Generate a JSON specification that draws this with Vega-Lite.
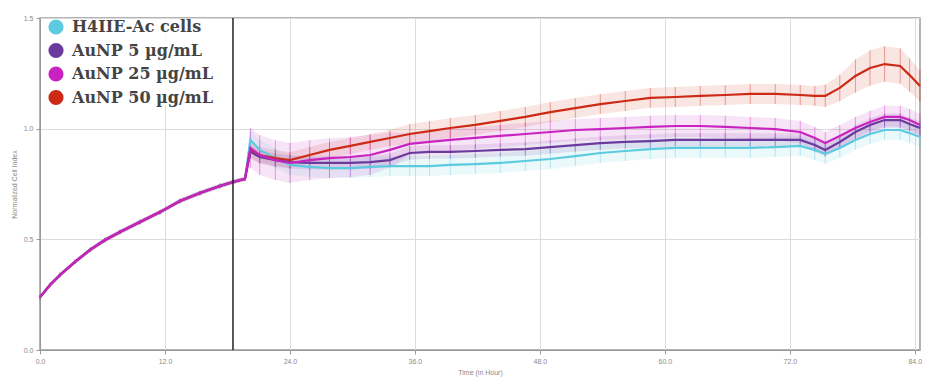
{
  "$schema": "https://vega.github.io/schema/vega-lite/v6.json",
  "autosize": {"type": "none"},
  "width": 880,
  "height": 332,
  "padding": {"left": 40, "top": 18, "right": 10, "bottom": 36},
  "background": "white",
  "config": {
    "view": {"stroke": "#9a9a9a", "strokeWidth": 1.5},
    "axis": {"gridColor": "#dcdcdc", "gridWidth": 1, "domainColor": "#9a9a9a", "tickColor": "#9a9a9a", "labelFont": "Liberation Sans", "labelFontSize": 7, "labelColor": "#8a8a8a", "titleFont": "Liberation Sans", "titleFontSize": 7, "titleFontWeight": "normal", "titleColor": "#8a8a8a", "labelFlush": false}
  },
  "datasets": {
    "series": [
      {"s":"H4IIE-Ac cells","t":0,"v":0.239,"e":0.01},{"s":"H4IIE-Ac cells","t":0.96,"v":0.294,"e":0.01},{"s":"H4IIE-Ac cells","t":1.92,"v":0.339,"e":0.01},{"s":"H4IIE-Ac cells","t":3.36,"v":0.398,"e":0.01},{"s":"H4IIE-Ac cells","t":4.8,"v":0.452,"e":0.01},{"s":"H4IIE-Ac cells","t":6.24,"v":0.497,"e":0.01},{"s":"H4IIE-Ac cells","t":7.68,"v":0.533,"e":0.01},{"s":"H4IIE-Ac cells","t":9.6,"v":0.578,"e":0.01},{"s":"H4IIE-Ac cells","t":11.52,"v":0.623,"e":0.01},{"s":"H4IIE-Ac cells","t":13.44,"v":0.673,"e":0.01},{"s":"H4IIE-Ac cells","t":15.36,"v":0.709,"e":0.01},{"s":"H4IIE-Ac cells","t":17.28,"v":0.741,"e":0.01},{"s":"H4IIE-Ac cells","t":18.53,"v":0.759,"e":0.01},{"s":"H4IIE-Ac cells","t":19.68,"v":0.773,"e":0.01},
      {"s":"H4IIE-Ac cells","t":20.2,"v":0.949,"e":0.045},{"s":"H4IIE-Ac cells","t":21.1,"v":0.904,"e":0.045},{"s":"H4IIE-Ac cells","t":22.6,"v":0.867,"e":0.045},{"s":"H4IIE-Ac cells","t":24.0,"v":0.836,"e":0.045},{"s":"H4IIE-Ac cells","t":25.9,"v":0.827,"e":0.045},{"s":"H4IIE-Ac cells","t":27.8,"v":0.822,"e":0.045},{"s":"H4IIE-Ac cells","t":29.8,"v":0.822,"e":0.045},{"s":"H4IIE-Ac cells","t":31.7,"v":0.827,"e":0.045},{"s":"H4IIE-Ac cells","t":33.6,"v":0.831,"e":0.045},{"s":"H4IIE-Ac cells","t":35.5,"v":0.831,"e":0.045},{"s":"H4IIE-Ac cells","t":37.4,"v":0.831,"e":0.045},{"s":"H4IIE-Ac cells","t":39.4,"v":0.836,"e":0.045},{"s":"H4IIE-Ac cells","t":41.8,"v":0.840,"e":0.045},{"s":"H4IIE-Ac cells","t":44.2,"v":0.845,"e":0.045},{"s":"H4IIE-Ac cells","t":46.6,"v":0.854,"e":0.045},{"s":"H4IIE-Ac cells","t":49.0,"v":0.863,"e":0.045},{"s":"H4IIE-Ac cells","t":51.4,"v":0.876,"e":0.045},{"s":"H4IIE-Ac cells","t":53.8,"v":0.890,"e":0.045},{"s":"H4IIE-Ac cells","t":56.2,"v":0.899,"e":0.045},{"s":"H4IIE-Ac cells","t":58.6,"v":0.908,"e":0.045},{"s":"H4IIE-Ac cells","t":61.0,"v":0.913,"e":0.045},{"s":"H4IIE-Ac cells","t":63.4,"v":0.913,"e":0.045},{"s":"H4IIE-Ac cells","t":65.8,"v":0.913,"e":0.045},{"s":"H4IIE-Ac cells","t":68.2,"v":0.913,"e":0.045},{"s":"H4IIE-Ac cells","t":70.6,"v":0.917,"e":0.045},{"s":"H4IIE-Ac cells","t":73.0,"v":0.922,"e":0.045},{"s":"H4IIE-Ac cells","t":74.4,"v":0.904,"e":0.045},{"s":"H4IIE-Ac cells","t":75.4,"v":0.886,"e":0.045},{"s":"H4IIE-Ac cells","t":76.8,"v":0.913,"e":0.045},{"s":"H4IIE-Ac cells","t":78.3,"v":0.949,"e":0.045},{"s":"H4IIE-Ac cells","t":79.7,"v":0.976,"e":0.045},{"s":"H4IIE-Ac cells","t":81.1,"v":0.994,"e":0.045},{"s":"H4IIE-Ac cells","t":82.6,"v":0.994,"e":0.045},{"s":"H4IIE-Ac cells","t":83.5,"v":0.980,"e":0.045},{"s":"H4IIE-Ac cells","t":84.5,"v":0.962,"e":0.045},

      {"s":"AuNP 50 µg/mL","t":0,"v":0.239,"e":0.01},{"s":"AuNP 50 µg/mL","t":0.96,"v":0.294,"e":0.01},{"s":"AuNP 50 µg/mL","t":1.92,"v":0.339,"e":0.01},{"s":"AuNP 50 µg/mL","t":3.36,"v":0.398,"e":0.01},{"s":"AuNP 50 µg/mL","t":4.8,"v":0.452,"e":0.01},{"s":"AuNP 50 µg/mL","t":6.24,"v":0.497,"e":0.01},{"s":"AuNP 50 µg/mL","t":7.68,"v":0.533,"e":0.01},{"s":"AuNP 50 µg/mL","t":9.6,"v":0.578,"e":0.01},{"s":"AuNP 50 µg/mL","t":11.52,"v":0.623,"e":0.01},{"s":"AuNP 50 µg/mL","t":13.44,"v":0.673,"e":0.01},{"s":"AuNP 50 µg/mL","t":15.36,"v":0.709,"e":0.01},{"s":"AuNP 50 µg/mL","t":17.28,"v":0.741,"e":0.01},{"s":"AuNP 50 µg/mL","t":18.53,"v":0.759,"e":0.01},{"s":"AuNP 50 µg/mL","t":19.68,"v":0.773,"e":0.01},
      {"s":"AuNP 50 µg/mL","t":20.2,"v":0.904,"e":0.036},{"s":"AuNP 50 µg/mL","t":21.1,"v":0.881,"e":0.036},{"s":"AuNP 50 µg/mL","t":22.6,"v":0.867,"e":0.036},{"s":"AuNP 50 µg/mL","t":24.0,"v":0.858,"e":0.036},{"s":"AuNP 50 µg/mL","t":25.9,"v":0.881,"e":0.036},{"s":"AuNP 50 µg/mL","t":27.8,"v":0.904,"e":0.036},{"s":"AuNP 50 µg/mL","t":29.8,"v":0.922,"e":0.036},{"s":"AuNP 50 µg/mL","t":31.7,"v":0.940,"e":0.036},{"s":"AuNP 50 µg/mL","t":33.6,"v":0.958,"e":0.036},{"s":"AuNP 50 µg/mL","t":35.5,"v":0.976,"e":0.045},{"s":"AuNP 50 µg/mL","t":37.4,"v":0.989,"e":0.045},{"s":"AuNP 50 µg/mL","t":39.4,"v":1.003,"e":0.045},{"s":"AuNP 50 µg/mL","t":41.8,"v":1.017,"e":0.045},{"s":"AuNP 50 µg/mL","t":44.2,"v":1.035,"e":0.045},{"s":"AuNP 50 µg/mL","t":46.6,"v":1.053,"e":0.045},{"s":"AuNP 50 µg/mL","t":49.0,"v":1.075,"e":0.045},{"s":"AuNP 50 µg/mL","t":51.4,"v":1.093,"e":0.045},{"s":"AuNP 50 µg/mL","t":53.8,"v":1.111,"e":0.045},{"s":"AuNP 50 µg/mL","t":56.2,"v":1.125,"e":0.045},{"s":"AuNP 50 µg/mL","t":58.6,"v":1.139,"e":0.045},{"s":"AuNP 50 µg/mL","t":61.0,"v":1.143,"e":0.045},{"s":"AuNP 50 µg/mL","t":63.4,"v":1.148,"e":0.045},{"s":"AuNP 50 µg/mL","t":65.8,"v":1.152,"e":0.045},{"s":"AuNP 50 µg/mL","t":68.2,"v":1.157,"e":0.045},{"s":"AuNP 50 µg/mL","t":70.6,"v":1.157,"e":0.045},{"s":"AuNP 50 µg/mL","t":73.0,"v":1.152,"e":0.045},{"s":"AuNP 50 µg/mL","t":74.4,"v":1.148,"e":0.045},{"s":"AuNP 50 µg/mL","t":75.4,"v":1.148,"e":0.05},{"s":"AuNP 50 µg/mL","t":76.8,"v":1.184,"e":0.06},{"s":"AuNP 50 µg/mL","t":78.3,"v":1.238,"e":0.075},{"s":"AuNP 50 µg/mL","t":79.7,"v":1.274,"e":0.08},{"s":"AuNP 50 µg/mL","t":81.1,"v":1.292,"e":0.08},{"s":"AuNP 50 µg/mL","t":82.6,"v":1.283,"e":0.08},{"s":"AuNP 50 µg/mL","t":83.5,"v":1.242,"e":0.075},{"s":"AuNP 50 µg/mL","t":84.5,"v":1.193,"e":0.07},

      {"s":"AuNP 5 µg/mL","t":0,"v":0.239,"e":0.01},{"s":"AuNP 5 µg/mL","t":0.96,"v":0.294,"e":0.01},{"s":"AuNP 5 µg/mL","t":1.92,"v":0.339,"e":0.01},{"s":"AuNP 5 µg/mL","t":3.36,"v":0.398,"e":0.01},{"s":"AuNP 5 µg/mL","t":4.8,"v":0.452,"e":0.01},{"s":"AuNP 5 µg/mL","t":6.24,"v":0.497,"e":0.01},{"s":"AuNP 5 µg/mL","t":7.68,"v":0.533,"e":0.01},{"s":"AuNP 5 µg/mL","t":9.6,"v":0.578,"e":0.01},{"s":"AuNP 5 µg/mL","t":11.52,"v":0.623,"e":0.01},{"s":"AuNP 5 µg/mL","t":13.44,"v":0.673,"e":0.01},{"s":"AuNP 5 µg/mL","t":15.36,"v":0.709,"e":0.01},{"s":"AuNP 5 µg/mL","t":17.28,"v":0.741,"e":0.01},{"s":"AuNP 5 µg/mL","t":18.53,"v":0.759,"e":0.01},{"s":"AuNP 5 µg/mL","t":19.68,"v":0.773,"e":0.01},
      {"s":"AuNP 5 µg/mL","t":20.2,"v":0.895,"e":0.03},{"s":"AuNP 5 µg/mL","t":21.1,"v":0.872,"e":0.03},{"s":"AuNP 5 µg/mL","t":22.6,"v":0.858,"e":0.03},{"s":"AuNP 5 µg/mL","t":24.0,"v":0.849,"e":0.03},{"s":"AuNP 5 µg/mL","t":25.9,"v":0.845,"e":0.03},{"s":"AuNP 5 µg/mL","t":27.8,"v":0.845,"e":0.03},{"s":"AuNP 5 µg/mL","t":29.8,"v":0.845,"e":0.03},{"s":"AuNP 5 µg/mL","t":31.7,"v":0.849,"e":0.03},{"s":"AuNP 5 µg/mL","t":33.6,"v":0.858,"e":0.03},{"s":"AuNP 5 µg/mL","t":35.5,"v":0.890,"e":0.03},{"s":"AuNP 5 µg/mL","t":37.4,"v":0.895,"e":0.03},{"s":"AuNP 5 µg/mL","t":39.4,"v":0.895,"e":0.03},{"s":"AuNP 5 µg/mL","t":41.8,"v":0.899,"e":0.03},{"s":"AuNP 5 µg/mL","t":44.2,"v":0.904,"e":0.03},{"s":"AuNP 5 µg/mL","t":46.6,"v":0.908,"e":0.03},{"s":"AuNP 5 µg/mL","t":49.0,"v":0.917,"e":0.03},{"s":"AuNP 5 µg/mL","t":51.4,"v":0.926,"e":0.03},{"s":"AuNP 5 µg/mL","t":53.8,"v":0.935,"e":0.03},{"s":"AuNP 5 µg/mL","t":56.2,"v":0.940,"e":0.03},{"s":"AuNP 5 µg/mL","t":58.6,"v":0.944,"e":0.03},{"s":"AuNP 5 µg/mL","t":61.0,"v":0.949,"e":0.03},{"s":"AuNP 5 µg/mL","t":63.4,"v":0.949,"e":0.03},{"s":"AuNP 5 µg/mL","t":65.8,"v":0.949,"e":0.03},{"s":"AuNP 5 µg/mL","t":68.2,"v":0.949,"e":0.03},{"s":"AuNP 5 µg/mL","t":70.6,"v":0.949,"e":0.03},{"s":"AuNP 5 µg/mL","t":73.0,"v":0.949,"e":0.03},{"s":"AuNP 5 µg/mL","t":74.4,"v":0.926,"e":0.03},{"s":"AuNP 5 µg/mL","t":75.4,"v":0.904,"e":0.03},{"s":"AuNP 5 µg/mL","t":76.8,"v":0.940,"e":0.03},{"s":"AuNP 5 µg/mL","t":78.3,"v":0.985,"e":0.03},{"s":"AuNP 5 µg/mL","t":79.7,"v":1.017,"e":0.03},{"s":"AuNP 5 µg/mL","t":81.1,"v":1.039,"e":0.03},{"s":"AuNP 5 µg/mL","t":82.6,"v":1.039,"e":0.03},{"s":"AuNP 5 µg/mL","t":83.5,"v":1.021,"e":0.03},{"s":"AuNP 5 µg/mL","t":84.5,"v":1.003,"e":0.03},

      {"s":"AuNP 25 µg/mL","t":0,"v":0.239,"e":0.01},{"s":"AuNP 25 µg/mL","t":0.96,"v":0.294,"e":0.01},{"s":"AuNP 25 µg/mL","t":1.92,"v":0.339,"e":0.01},{"s":"AuNP 25 µg/mL","t":3.36,"v":0.398,"e":0.01},{"s":"AuNP 25 µg/mL","t":4.8,"v":0.452,"e":0.01},{"s":"AuNP 25 µg/mL","t":6.24,"v":0.497,"e":0.01},{"s":"AuNP 25 µg/mL","t":7.68,"v":0.533,"e":0.01},{"s":"AuNP 25 µg/mL","t":9.6,"v":0.578,"e":0.01},{"s":"AuNP 25 µg/mL","t":11.52,"v":0.623,"e":0.01},{"s":"AuNP 25 µg/mL","t":13.44,"v":0.673,"e":0.01},{"s":"AuNP 25 µg/mL","t":15.36,"v":0.709,"e":0.01},{"s":"AuNP 25 µg/mL","t":17.28,"v":0.741,"e":0.01},{"s":"AuNP 25 µg/mL","t":18.53,"v":0.759,"e":0.01},{"s":"AuNP 25 µg/mL","t":19.68,"v":0.773,"e":0.01},
      {"s":"AuNP 25 µg/mL","t":20.2,"v":0.913,"e":0.09},{"s":"AuNP 25 µg/mL","t":21.1,"v":0.881,"e":0.09},{"s":"AuNP 25 µg/mL","t":22.6,"v":0.858,"e":0.09},{"s":"AuNP 25 µg/mL","t":24.0,"v":0.845,"e":0.09},{"s":"AuNP 25 µg/mL","t":25.9,"v":0.858,"e":0.09},{"s":"AuNP 25 µg/mL","t":27.8,"v":0.867,"e":0.09},{"s":"AuNP 25 µg/mL","t":29.8,"v":0.872,"e":0.09},{"s":"AuNP 25 µg/mL","t":31.7,"v":0.881,"e":0.09},{"s":"AuNP 25 µg/mL","t":33.6,"v":0.904,"e":0.08},{"s":"AuNP 25 µg/mL","t":35.5,"v":0.931,"e":0.05},{"s":"AuNP 25 µg/mL","t":37.4,"v":0.940,"e":0.05},{"s":"AuNP 25 µg/mL","t":39.4,"v":0.949,"e":0.05},{"s":"AuNP 25 µg/mL","t":41.8,"v":0.958,"e":0.05},{"s":"AuNP 25 µg/mL","t":44.2,"v":0.967,"e":0.05},{"s":"AuNP 25 µg/mL","t":46.6,"v":0.976,"e":0.05},{"s":"AuNP 25 µg/mL","t":49.0,"v":0.985,"e":0.05},{"s":"AuNP 25 µg/mL","t":51.4,"v":0.994,"e":0.05},{"s":"AuNP 25 µg/mL","t":53.8,"v":0.998,"e":0.05},{"s":"AuNP 25 µg/mL","t":56.2,"v":1.003,"e":0.05},{"s":"AuNP 25 µg/mL","t":58.6,"v":1.008,"e":0.05},{"s":"AuNP 25 µg/mL","t":61.0,"v":1.012,"e":0.05},{"s":"AuNP 25 µg/mL","t":63.4,"v":1.012,"e":0.05},{"s":"AuNP 25 µg/mL","t":65.8,"v":1.008,"e":0.05},{"s":"AuNP 25 µg/mL","t":68.2,"v":1.003,"e":0.05},{"s":"AuNP 25 µg/mL","t":70.6,"v":0.998,"e":0.05},{"s":"AuNP 25 µg/mL","t":73.0,"v":0.985,"e":0.05},{"s":"AuNP 25 µg/mL","t":74.4,"v":0.958,"e":0.05},{"s":"AuNP 25 µg/mL","t":75.4,"v":0.935,"e":0.05},{"s":"AuNP 25 µg/mL","t":76.8,"v":0.967,"e":0.05},{"s":"AuNP 25 µg/mL","t":78.3,"v":1.003,"e":0.05},{"s":"AuNP 25 µg/mL","t":79.7,"v":1.030,"e":0.05},{"s":"AuNP 25 µg/mL","t":81.1,"v":1.053,"e":0.05},{"s":"AuNP 25 µg/mL","t":82.6,"v":1.053,"e":0.05},{"s":"AuNP 25 µg/mL","t":83.5,"v":1.039,"e":0.05},{"s":"AuNP 25 µg/mL","t":84.5,"v":1.017,"e":0.05}
    ],
    "treatment": [{"t": 18.53}]
  },
  "layer": [
    {
      "data": {"name": "series"},
      "encoding": {
        "x": {"field": "t", "type": "quantitative", "title": "Time (in Hour)",
              "scale": {"domain": [0, 84.5], "nice": false},
              "axis": {"values": [0, 12, 24, 36, 48, 60, 72, 84], "format": ".1f", "tickSize": 4, "labelPadding": 3, "titlePadding": 4}},
        "y": {"field": "v", "type": "quantitative", "title": "Normalized Cell Index",
              "scale": {"domain": [0, 1.5], "nice": false},
              "axis": {"values": [0, 0.5, 1, 1.5], "format": ".1f", "tickSize": 4, "labelPadding": 3, "titlePadding": 6}},
        "color": {"field": "s", "type": "nominal",
                  "scale": {"domain": ["H4IIE-Ac cells", "AuNP 5 µg/mL", "AuNP 25 µg/mL", "AuNP 50 µg/mL"],
                            "range": ["#5ccbe0", "#6a3a9c", "#c822c0", "#cc2a14"]},
                  "legend": {"title": null, "orient": "none", "legendX": 8, "legendY": 1,
                             "symbolType": "circle", "symbolSize": 230, "symbolStrokeWidth": 0, "symbolOpacity": 1,
                             "labelFont": "DejaVu Serif", "labelFontSize": 16, "labelFontWeight": "bold", "labelColor": "#444444",
                             "rowPadding": 7.5, "labelOffset": 8,
                             "fillColor": "rgba(255,255,255,0.85)",
                             "encode": {"symbols": {"update": {"fill": {"scale": "color", "field": "value"}, "fillOpacity": {"value": 1}, "opacity": {"value": 1}}}}}}
      },
      "layer": [
        {
          "mark": {"type": "errorband", "opacity": 0.12},
          "encoding": {"yError": {"field": "e"}}
        },
        {
          "mark": {"type": "errorbar", "opacity": 0.4, "thickness": 1},
          "encoding": {"yError": {"field": "e"}}
        },
        {
          "mark": {"type": "line", "strokeWidth": 2.2},
          "encoding": {"order": {"field": "t", "type": "quantitative"}}
        }
      ]
    },
    {
      "data": {"name": "treatment"},
      "mark": {"type": "rule", "color": "#222222", "strokeWidth": 1.5},
      "encoding": {"x": {"field": "t", "type": "quantitative"}}
    }
  ]
}
